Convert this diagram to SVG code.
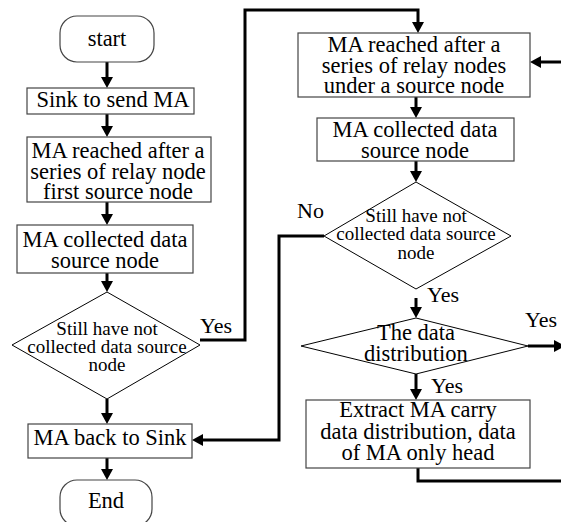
<svg xmlns="http://www.w3.org/2000/svg" width="561" height="522" viewBox="0 0 561 522">
<defs>
<marker id="ah" viewBox="0 0 12 12" markerWidth="12" markerHeight="12" markerUnits="userSpaceOnUse" refX="2" refY="6" orient="auto">
<path d="M0,0 L11,6 L0,12 z" fill="#000"/>
</marker>
<style>
text{font-family:'Liberation Serif','Times New Roman',serif;fill:#000}
.box{fill:#fff;stroke:#444;stroke-width:1.2}
.dia{fill:#fff;stroke:#000;stroke-width:1}
.t{font-size:22.5px;text-anchor:middle}
.s{font-size:19px;text-anchor:middle}
.l{font-size:22px}
.c{fill:none;stroke:#000;stroke-width:3}
.a{marker-end:url(#ah)}
</style>
</defs>
<rect width="561" height="522" fill="#fff"/>
<g id="connectors">
<path class="c a" d="M107,62 V79"/>
<path class="c a" d="M107,114 V128"/>
<path class="c a" d="M107,202 V216"/>
<path class="c a" d="M107,273 V283"/>
<path class="c a" d="M107,399 V415"/>
<path class="c a" d="M107,458 V471"/>
<path class="c a" d="M200,340 H245 V10 H418 V24"/>
<path class="c a" d="M324,236 H279 V440 H201"/>
<path class="c a" d="M561,62 H539"/>
<path class="c a" d="M416,97 V109"/>
<path class="c a" d="M416,161 V173"/>
<path class="c a" d="M416,298 V309"/>
<path class="c a" d="M528,346 H556"/>
<path class="c a" d="M416,374 V391"/>
<path class="c" d="M418,468 V481 H561"/>
</g>
<g id="start">
<rect class="box" x="60" y="16" width="94" height="46" rx="17"/>
<text class="t" x="107" y="46">start</text>
</g>
<g id="sink-send">
<rect class="box" x="27" y="88" width="167" height="26"/>
<text class="t" x="113" y="107">Sink to send MA</text>
</g>
<g id="reach-first">
<rect class="box" x="27" y="137" width="184" height="65"/>
<text class="t" x="118" y="158">MA reached after a</text>
<text class="t" x="118" y="179">series of relay node</text>
<text class="t" x="118" y="199">first source node</text>
</g>
<g id="collect1">
<rect class="box" x="17" y="225" width="176" height="48"/>
<text class="t" x="105" y="247">MA collected data</text>
<text class="t" x="105" y="268">source node</text>
</g>
<g id="check1">
<polygon class="dia" points="107,292 200,345 107,399 12,345"/>
<text class="s" x="107" y="335">Still have not</text>
<text class="s" x="107" y="353">collected data source</text>
<text class="s" x="107" y="371">node</text>
</g>
<g id="back">
<rect class="box" x="28" y="424" width="164" height="34"/>
<text class="t" x="110" y="445">MA back to Sink</text>
</g>
<g id="end">
<rect class="box" x="60" y="480" width="92" height="46" rx="17"/>
<text class="t" x="106" y="508">End</text>
</g>
<g id="reach-next">
<rect class="box" x="298" y="33" width="232" height="64"/>
<text class="t" x="414" y="52">MA reached after a</text>
<text class="t" x="414" y="73">series of relay nodes</text>
<text class="t" x="414" y="93">under a source node</text>
</g>
<g id="collect2">
<rect class="box" x="317" y="118" width="197" height="43"/>
<text class="t" x="415" y="137">MA collected data</text>
<text class="t" x="415" y="158">source node</text>
</g>
<g id="check2">
<polygon class="dia" points="416,182 511,236 416,289 324,236"/>
<text class="s" x="416" y="222">Still have not</text>
<text class="s" x="416" y="240">collected data source</text>
<text class="s" x="416" y="259">node</text>
</g>
<g id="distribution">
<polygon class="dia" points="416,318 528,346 416,374 301,346"/>
<text class="t" x="416" y="340">The data</text>
<text class="t" x="416" y="361">distribution</text>
</g>
<g id="extract">
<rect class="box" x="306" y="400" width="224" height="68"/>
<text class="t" x="418" y="417">Extract MA carry</text>
<text class="t" x="418" y="439">data distribution, data</text>
<text class="t" x="418" y="460">of MA only head</text>
</g>
<g id="labels">
<text class="l" x="200" y="333">Yes</text>
<text class="l" x="297" y="218">No</text>
<text class="l" x="427" y="302">Yes</text>
<text class="l" x="525" y="327">Yes</text>
<text class="l" x="431" y="393">Yes</text>
</g>
</svg>
